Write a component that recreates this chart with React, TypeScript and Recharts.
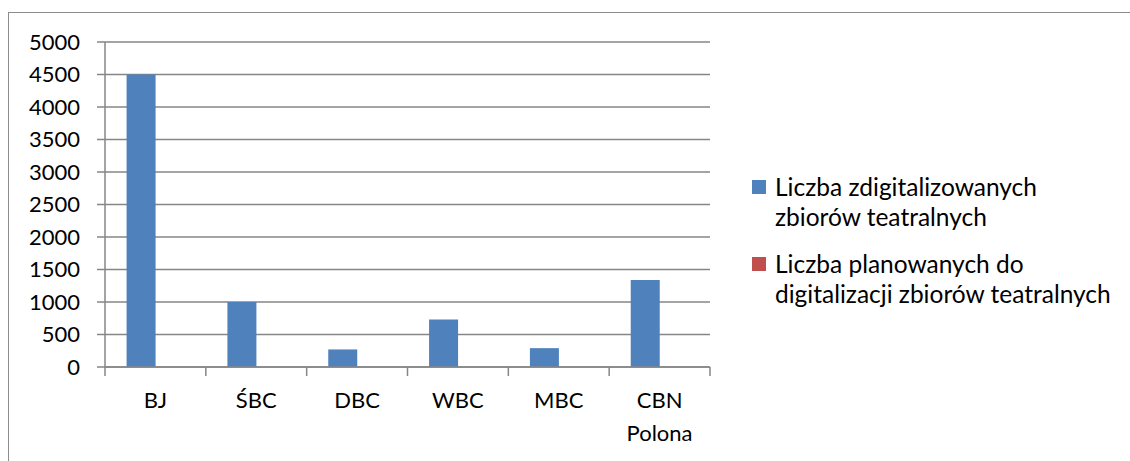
import { BarChart, Bar, XAxis, YAxis, CartesianGrid } from 'recharts'

const categories = ['BJ', 'ŚBC', 'DBC', 'WBC', 'MBC', 'CBN Polona']
const digitized = [4500, 1000, 270, 730, 290, 1340]
const planned = [0, 0, 0, 0, 0, 0]
const yTicks = [0, 500, 1000, 1500, 2000, 2500, 3000, 3500, 4000, 4500, 5000]
const seriesNames = [
  ['Liczba zdigitalizowanych', 'zbiorów teatralnych'],
  ['Liczba planowanych do', 'digitalizacji zbiorów teatralnych'],
]

const BLUE = '#4F81BD'
const RED = '#C0504D'
const AXIS = '#868686'
const FONT = 'Lato, "Open Sans", sans-serif'

const data = categories.map((name, i) => ({
  name,
  digitized: digitized[i],
  planned: planned[i],
}))

const W = 1130
const H = 461
const margin = { top: 42, right: 420, bottom: 54, left: 0 }
const yAxisWidth = 105
const band = (W - margin.left - margin.right - yAxisWidth) / categories.length

function CategoryTick(props: any) {
  const { x, y, payload, index } = props
  const lines = String(payload.value).split(' ')
  const left = x - band / 2
  return (
    <g>
      <line x1={left} x2={left} y1={y - 8} y2={y + 1} stroke={AXIS} strokeWidth={1.5} />
      {index === categories.length - 1 && (
        <line x1={x + band / 2} x2={x + band / 2} y1={y - 8} y2={y + 1} stroke={AXIS} strokeWidth={1.5} />
      )}
      <text x={x} y={y + 33} textAnchor="middle" fill="#000" fontSize={22} fontFamily={FONT}>
        {lines.map((l, i) => (
          <tspan key={i} x={x} dy={i === 0 ? 0 : 33}>
            {l}
          </tspan>
        ))}
      </text>
    </g>
  )
}

function LegendBox() {
  const colors = [BLUE, RED]
  return (
    <div style={{ fontFamily: FONT, fontSize: 24.5, color: '#000', lineHeight: '30px' }}>
      {seriesNames.map((lines, i) => (
        <div key={i} style={{ position: 'relative', paddingLeft: 23, marginBottom: i === 0 ? 17 : 0 }}>
          <span
            style={{
              position: 'absolute',
              left: 0,
              top: 8,
              width: 14,
              height: 14,
              background: colors[i],
            }}
          />
          {lines.map((l, j) => (
            <div key={j} style={{ whiteSpace: 'nowrap' }}>{l}</div>
          ))}
        </div>
      ))}
    </div>
  )
}

export default function App() {
  return (
    <div style={{ position: 'absolute', left: 0, top: 0, width: W, height: H, background: '#fff', overflow: 'hidden' }}>
      <div
        style={{
          position: 'absolute',
          left: 8,
          top: 12,
          width: W,
          height: H,
          borderLeft: '1.5px solid #8c8c8c',
          borderTop: '1.5px solid #8c8c8c',
        }}
      />
      <div style={{ position: 'absolute', left: 0, top: 0 }}>
        <BarChart width={W} height={H} data={data} margin={margin} barCategoryGap="21.4%" barGap={0}>
          <CartesianGrid vertical={false} stroke={AXIS} strokeWidth={1.5} />
          <XAxis
            dataKey="name"
            interval={0}
            height={40}
            tickLine={false}
            axisLine={{ stroke: AXIS, strokeWidth: 1.5 }}
            tick={<CategoryTick />}
          />
          <YAxis
            width={yAxisWidth}
            domain={[0, 5000]}
            ticks={yTicks}
            interval={0}
            tickSize={8}
            tickMargin={17}
            tickLine={{ stroke: AXIS, strokeWidth: 1.5 }}
            axisLine={{ stroke: AXIS, strokeWidth: 1.5 }}
            tick={{ fill: '#000', fontSize: 22, fontFamily: FONT }}
          />
          <Bar dataKey="digitized" name={seriesNames[0].join(' ')} fill={BLUE} isAnimationActive={false} />
          <Bar dataKey="planned" name={seriesNames[1].join(' ')} fill={RED} isAnimationActive={false} />
        </BarChart>
      </div>
      <div style={{ position: 'absolute', left: 752, top: 172 }}>
        <LegendBox />
      </div>
    </div>
  )
}
